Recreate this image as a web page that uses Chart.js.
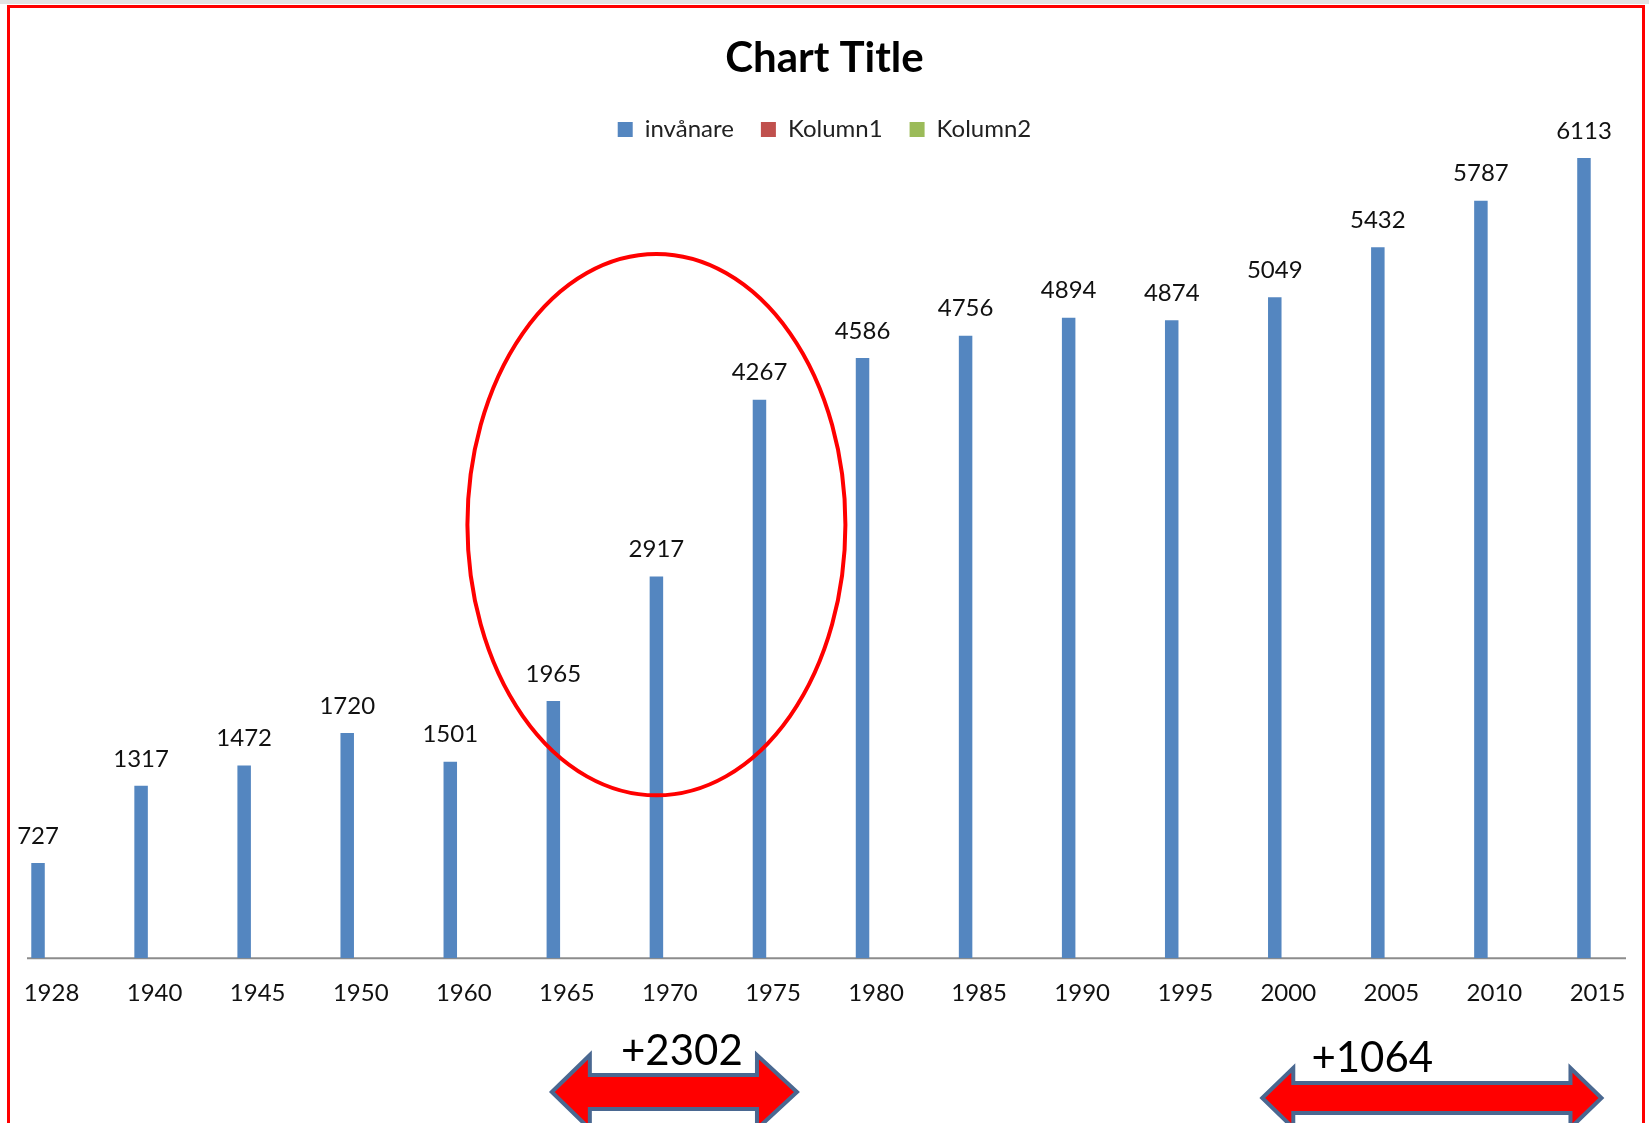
<!DOCTYPE html>
<html>
<head>
<meta charset="utf-8">
<script src="https://cdn.jsdelivr.net/npm/chart.js@4"></script>
<style>
  html, body { margin: 0; padding: 0; background: #fff; overflow: hidden; }
  #wrap { position: relative; width: 1649px; height: 1123px; }
  #topline { position: absolute; left: 0; top: 0; width: 1649px; height: 4px; background: #e2e2e2; }
  #frame { position: absolute; left: 7px; top: 5px; width: 1632px; height: 1200px;
           border: 3px solid #ff0000; border-bottom: none; pointer-events: none; }
</style>
</head>
<body>
<div id="wrap">
  <canvas id="chart" width="1649" height="1123"></canvas>
  <div id="topline"></div>
  <div id="frame"></div>
</div>
<script>
// data
const years = ['1928', '1940', '1945', '1950', '1960', '1965', '1970', '1975',
               '1980', '1985', '1990', '1995', '2000', '2005', '2010', '2015'];
const invanare = [727, 1317, 1472, 1720, 1501, 1965, 2917, 4267,
                  4586, 4756, 4894, 4874, 5049, 5432, 5787, 6113];
const kolumn1 = [];
const kolumn2 = [];

// hand-drawn extras in the original: differences between two years
const arrows = [
  { from: '1965', to: '1975', y: 1092, head: 37, shaft: 17, lenL: 38, lenR: 40, dxL: -15, dxR: 24, labelDx: 130, labelY: 1051 },
  { from: '2000', to: '2015', y: 1098, head: 30, shaft: 15, lenL: 31, lenR: 31, dxL: -26, dxR: 4, labelDx: 110, labelY: 1058 }
];

const FONT = 'Lato, "Open Sans", sans-serif';

const valueLabels = {
  id: 'valueLabels',
  afterDatasetsDraw(chart) {
    const ctx = chart.ctx;
    const meta = chart.getDatasetMeta(0);
    ctx.save();
    ctx.font = '24px ' + FONT;
    ctx.fillStyle = '#111';
    ctx.textAlign = 'center';
    ctx.textBaseline = 'middle';
    meta.data.forEach((bar, i) => {
      ctx.fillText(String(invanare[i]), bar.x, bar.y - 27);
    });
    ctx.restore();
  }
};

// x axis line, shorter than the plot width as in the original
const baseLine = {
  id: 'baseLine',
  beforeDatasetsDraw(chart) {
    const ctx = chart.ctx;
    const y = chart.scales.y.getPixelForValue(0);
    ctx.save();
    ctx.strokeStyle = '#8c8c8c';
    ctx.lineWidth = 2;
    ctx.beginPath();
    ctx.moveTo(chart.chartArea.left + 27, y);
    ctx.lineTo(chart.chartArea.right - 23, y);
    ctx.stroke();
    ctx.restore();
  }
};

function doubleArrow(ctx, x1, x2, y, head, shaft, lenL, lenR) {
  ctx.beginPath();
  ctx.moveTo(x1, y);
  ctx.lineTo(x1 + lenL, y - head);
  ctx.lineTo(x1 + lenL, y - shaft);
  ctx.lineTo(x2 - lenR, y - shaft);
  ctx.lineTo(x2 - lenR, y - head);
  ctx.lineTo(x2, y);
  ctx.lineTo(x2 - lenR, y + head);
  ctx.lineTo(x2 - lenR, y + shaft);
  ctx.lineTo(x1 + lenL, y + shaft);
  ctx.lineTo(x1 + lenL, y + head);
  ctx.closePath();
  ctx.fillStyle = '#ff0000';
  ctx.fill();
  ctx.strokeStyle = '#4a6891';
  ctx.lineWidth = 4;
  ctx.lineJoin = 'miter';
  ctx.stroke();
}

const annotations = {
  id: 'annotations',
  afterDraw(chart) {
    const ctx = chart.ctx;
    const xs = chart.scales.x, ys = chart.scales.y;
    const bars = chart.getDatasetMeta(0).data;
    ctx.save();

    // ellipse round 1965-1975
    const cx = bars[years.indexOf('1970')].x;
    const top = ys.getPixelForValue(5380), bottom = ys.getPixelForValue(1244);
    ctx.beginPath();
    ctx.ellipse(cx, (top + bottom) / 2, 189, (bottom - top) / 2, 0, 0, Math.PI * 2);
    ctx.strokeStyle = '#ff0000';
    ctx.lineWidth = 4;
    ctx.stroke();

    arrows.forEach(a => {
      const i1 = years.indexOf(a.from), i2 = years.indexOf(a.to);
      const x1 = xs.getPixelForValue(i1) + a.dxL;
      const x2 = xs.getPixelForValue(i2) + a.dxR;
      doubleArrow(ctx, x1, x2, a.y, a.head, a.shaft, a.lenL, a.lenR);
      ctx.font = '42px ' + FONT;
      ctx.fillStyle = '#000';
      ctx.textAlign = 'center';
      ctx.textBaseline = 'middle';
      ctx.fillText('+' + (invanare[i2] - invanare[i1]), x1 + a.labelDx, a.labelY);
    });
    ctx.restore();
  }
};

new Chart(document.getElementById('chart').getContext('2d'), {
  type: 'bar',
  data: {
    labels: years,
    datasets: [
      { label: 'invånare', data: invanare, backgroundColor: '#5486c0' },
      { label: 'Kolumn1', data: kolumn1, backgroundColor: '#c0504d' },
      { label: 'Kolumn2', data: kolumn2, backgroundColor: '#9bbb59' }
    ]
  },
  options: {
    responsive: false,
    animation: false,
    devicePixelRatio: 1,
    categoryPercentage: 0.393,
    barPercentage: 1.0,
    layout: { padding: { left: 0, right: 0, top: 0, bottom: 94 } },
    plugins: {
      title: {
        display: true,
        text: 'Chart Title',
        color: '#000',
        font: { family: FONT, size: 42, weight: 'bold' },
        padding: { top: 33, bottom: 7 }
      },
      legend: {
        display: true,
        labels: {
          color: '#222',
          font: { family: FONT, size: 24 },
          boxWidth: 15,
          boxHeight: 15,
          padding: 27
        }
      },
      tooltip: { enabled: false }
    },
    scales: {
      x: {
        grid: { display: false, drawTicks: false },
        border: { display: false },
        ticks: {
          color: '#111',
          font: { family: FONT, size: 24 },
          padding: 21,
          maxRotation: 0,
          autoSkip: false
        }
      },
      y: {
        display: false,
        min: 0,
        max: 6164
      }
    }
  },
  plugins: [valueLabels, baseLine, annotations]
});
</script>
</body>
</html>
